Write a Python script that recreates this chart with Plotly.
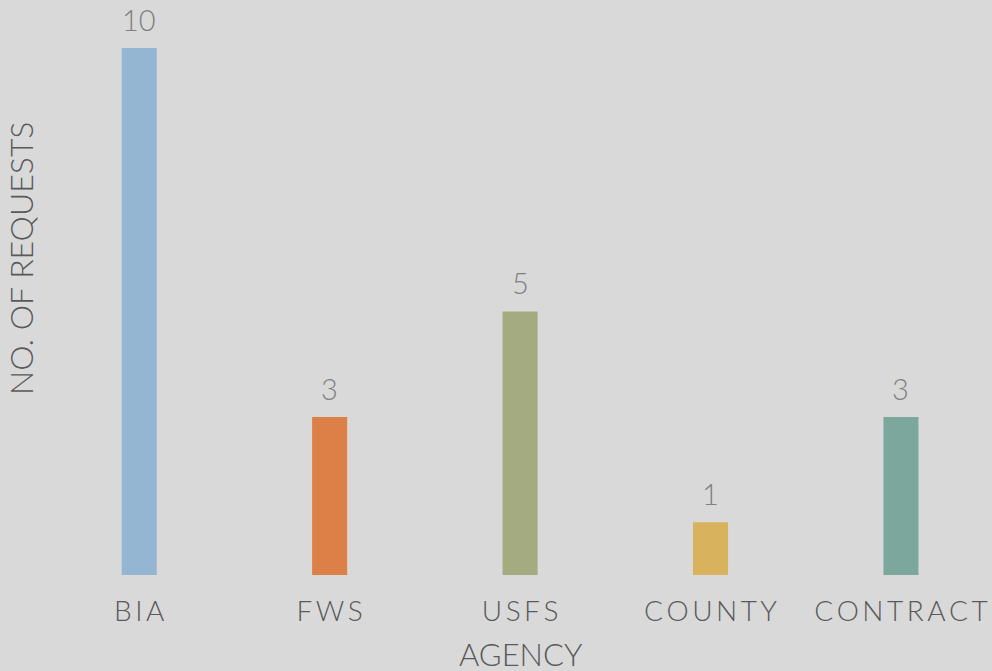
import plotly.graph_objects as go

agencies = ["BIA", "FWS", "USFS", "COUNTY", "CONTRACT"]
requests = [10, 3, 5, 1, 3]
bar_colors = ["#94b6d2", "#dd8047", "#a5ab81", "#d8b25c", "#7ba79d"]

# letter-spaced tick labels
spaced = ["\u2009".join(list(a)) for a in agencies]

fig = go.Figure(go.Bar(
    x=agencies, y=requests,
    marker=dict(color=bar_colors, line=dict(width=0)),
    width=0.184,
    cliponaxis=False,
))

value_labels = [
    dict(x=a, y=v, text=str(v), xref="x", yref="y", showarrow=False,
         xanchor="center", yanchor="bottom", yshift=9,
         font=dict(family="Lato", size=29, color="#808080", weight=300))
    for a, v in zip(agencies, requests)
]

fig.update_layout(
    width=992, height=671,
    paper_bgcolor="#d9d9d9", plot_bgcolor="#d9d9d9",
    margin=dict(l=44, r=0, t=0, b=96),
    showlegend=False,
    font=dict(family="Lato", color="#595959"),
    xaxis=dict(
        range=[-0.5, 4.478],
        tickmode="array", tickvals=agencies, ticktext=spaced,
        tickfont=dict(family="Lato", size=28, color="#595959", weight=300),
        showgrid=False, zeroline=False, showline=False, ticks="",
        ticklabelstandoff=17,
    ),
    yaxis=dict(
        range=[0, 10.91], visible=False,
    ),
    annotations=value_labels + [
        dict(text="AGENCY", xref="paper", yref="paper", x=(521 - 44) / 948, y=-(654 - 575) / 575,
             xanchor="center", yanchor="middle", showarrow=False,
             font=dict(family="Lato", size=31, color="#595959", weight=300)),
        dict(text="NO. OF REQUESTS", xref="paper", yref="paper", x=-(44 - 20) / 948, y=(575 - 259) / 575,
             xanchor="center", yanchor="middle", showarrow=False, textangle=-90,
             font=dict(family="Lato", size=32, color="#595959", weight=300)),
    ],
)

fig.write_html("out.html", config={"displayModeBar": False},
               post_script="document.body.style.margin='0';document.body.style.overflow='hidden';")
